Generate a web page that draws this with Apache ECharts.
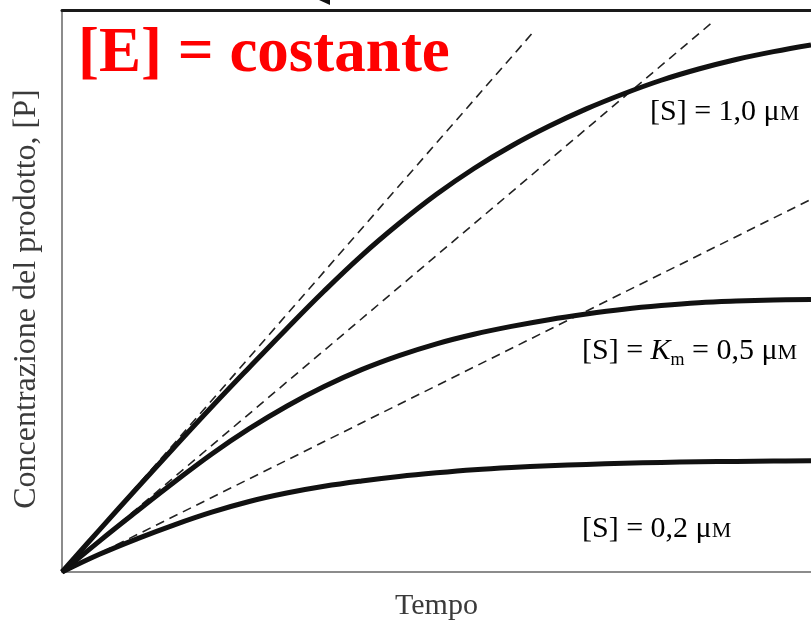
<!DOCTYPE html>
<html><head><meta charset="utf-8">
<script src="https://cdn.jsdelivr.net/npm/echarts@6/dist/echarts.min.js"></script>
<style>html,body{margin:0;padding:0;background:#fff}#c{width:811px;height:626px}</style>
</head><body><div id="c"></div>
<script>
// Tempo (x, arbitrary units 0-100) and product concentration [P] (y, 0-100)
const tempo = [0,5,10,15,20,25,30,35,40,45,50,55,60,65,70,75,80,85,90,95,100];
const prodottoS10 = [0,7.5,14.9,22.2,29.4,36.4,43.3,50.0,56.3,62.0,67.2,71.8,75.8,79.3,82.4,85.1,87.5,89.5,91.2,92.6,93.8];
const prodottoSKm = [0,5.5,10.8,16.0,21.0,25.5,29.5,33.0,36.0,38.5,40.6,42.3,43.7,44.9,45.9,46.75,47.4,47.9,48.2,48.4,48.5];
const prodottoS02 = [0,3.15,5.9,8.4,10.65,12.55,14.05,15.25,16.2,17.0,17.65,18.2,18.6,18.9,19.15,19.35,19.5,19.6,19.68,19.73,19.78];
// initial-rate tangents: end points (start at origin)
const tangenteFineX = [63.0, 87.0, 100];
const tangenteFineY = [96.2, 98.0, 66.3];
// texts
const titolo = '[E] = costante';
const etichetteCurve = [
  '{n|[S] = 1,0 μ}{sc|M}',
  '{n|[S] = }{k|K}{s|m}{n| = 0,5 μ}{sc|M}',
  '{n|[S] = 0,2 μ}{sc|M}'
];
const nomeAsseX = 'Tempo';
const nomeAsseY = 'Concentrazione del prodotto, [P]';

const serif = '"Liberation Serif", "Times New Roman", serif';
const txtColor = '#3a3a3a';
const rich = {
  n: {fontFamily: serif, fontSize: 30, lineHeight: 34, height: 30, verticalAlign: 'bottom', color: txtColor},
  sc: {fontFamily: serif, fontSize: 22, lineHeight: 29, height: 25, verticalAlign: 'bottom', color: txtColor},
  k: {fontFamily: serif, fontSize: 30, lineHeight: 34, height: 30, verticalAlign: 'bottom', fontStyle: 'italic', color: txtColor},
  s: {fontFamily: serif, fontSize: 18, lineHeight: 12, height: 11, verticalAlign: 'bottom', color: txtColor}
};
const zip = (xs, ys) => xs.map((x, i) => [x, ys[i]]);

const chart = echarts.init(document.getElementById('c'), null, {renderer: 'canvas'});
const hidden = {axisTick: {show: false}, axisLabel: {show: false}, splitLine: {show: false}};
const dashed = tangenteFineX.map((x, i) => ({
  type: 'line', data: [[0, 0], [x, tangenteFineY[i]]], showSymbol: false, symbol: 'none', silent: true,
  lineStyle: {color: '#222', width: 1.6, type: [9, 6]}, z: 2
}));
const curves = [prodottoS10, prodottoSKm, prodottoS02].map(ys => ({
  type: 'line', data: zip(tempo, ys), smooth: 0.4, symbol: 'none', showSymbol: false, silent: true,
  lineStyle: {color: '#111', width: 5}, z: 3
}));
chart.setOption({
  animation: false,
  grid: {left: 62, right: 0, top: 10, bottom: 51},
  xAxis: [
    Object.assign({type: 'value', min: 0, max: 100, position: 'bottom',
      axisLine: {show: true, onZero: false, lineStyle: {color: '#8c8c8c', width: 2}},
      name: nomeAsseX, nameLocation: 'middle', nameGap: 19,
      nameTextStyle: {fontFamily: serif, fontSize: 30, color: txtColor}}, hidden),
    Object.assign({type: 'value', min: 0, max: 100, position: 'top',
      axisLine: {show: true, onZero: false, lineStyle: {color: '#1a1a1a', width: 3}}}, hidden)
  ],
  yAxis: Object.assign({type: 'value', min: 0, max: 100,
    axisLine: {show: true, onZero: false, lineStyle: {color: '#8c8c8c', width: 2}},
    name: nomeAsseY, nameLocation: 'middle', nameGap: 19, nameRotate: 90,
    nameTextStyle: {fontFamily: serif, fontSize: 32, color: txtColor, padding: [0, 16, 0, 0]}}, hidden),
  series: dashed.concat(curves),
  graphic: [
    {type: 'text', left: 78, top: 23, z: 10,
      style: {text: titolo, font: 'bold 63px ' + serif, fill: '#ff0000'}},
    {type: 'text', x: 650, y: 110, z: 10, style: {text: etichetteCurve[0], rich: rich, verticalAlign: 'middle', align: 'left'}},
    {type: 'text', x: 582, y: 349, z: 10, style: {text: etichetteCurve[1], rich: rich, verticalAlign: 'middle', align: 'left'}},
    {type: 'text', x: 582, y: 527, z: 10, style: {text: etichetteCurve[2], rich: rich, verticalAlign: 'middle', align: 'left'}},
    {type: 'polygon', z: 10, shape: {points: [[319, 0], [330, 0], [330, 5]]}, style: {fill: '#111'}}
  ]
});
</script></body></html>
